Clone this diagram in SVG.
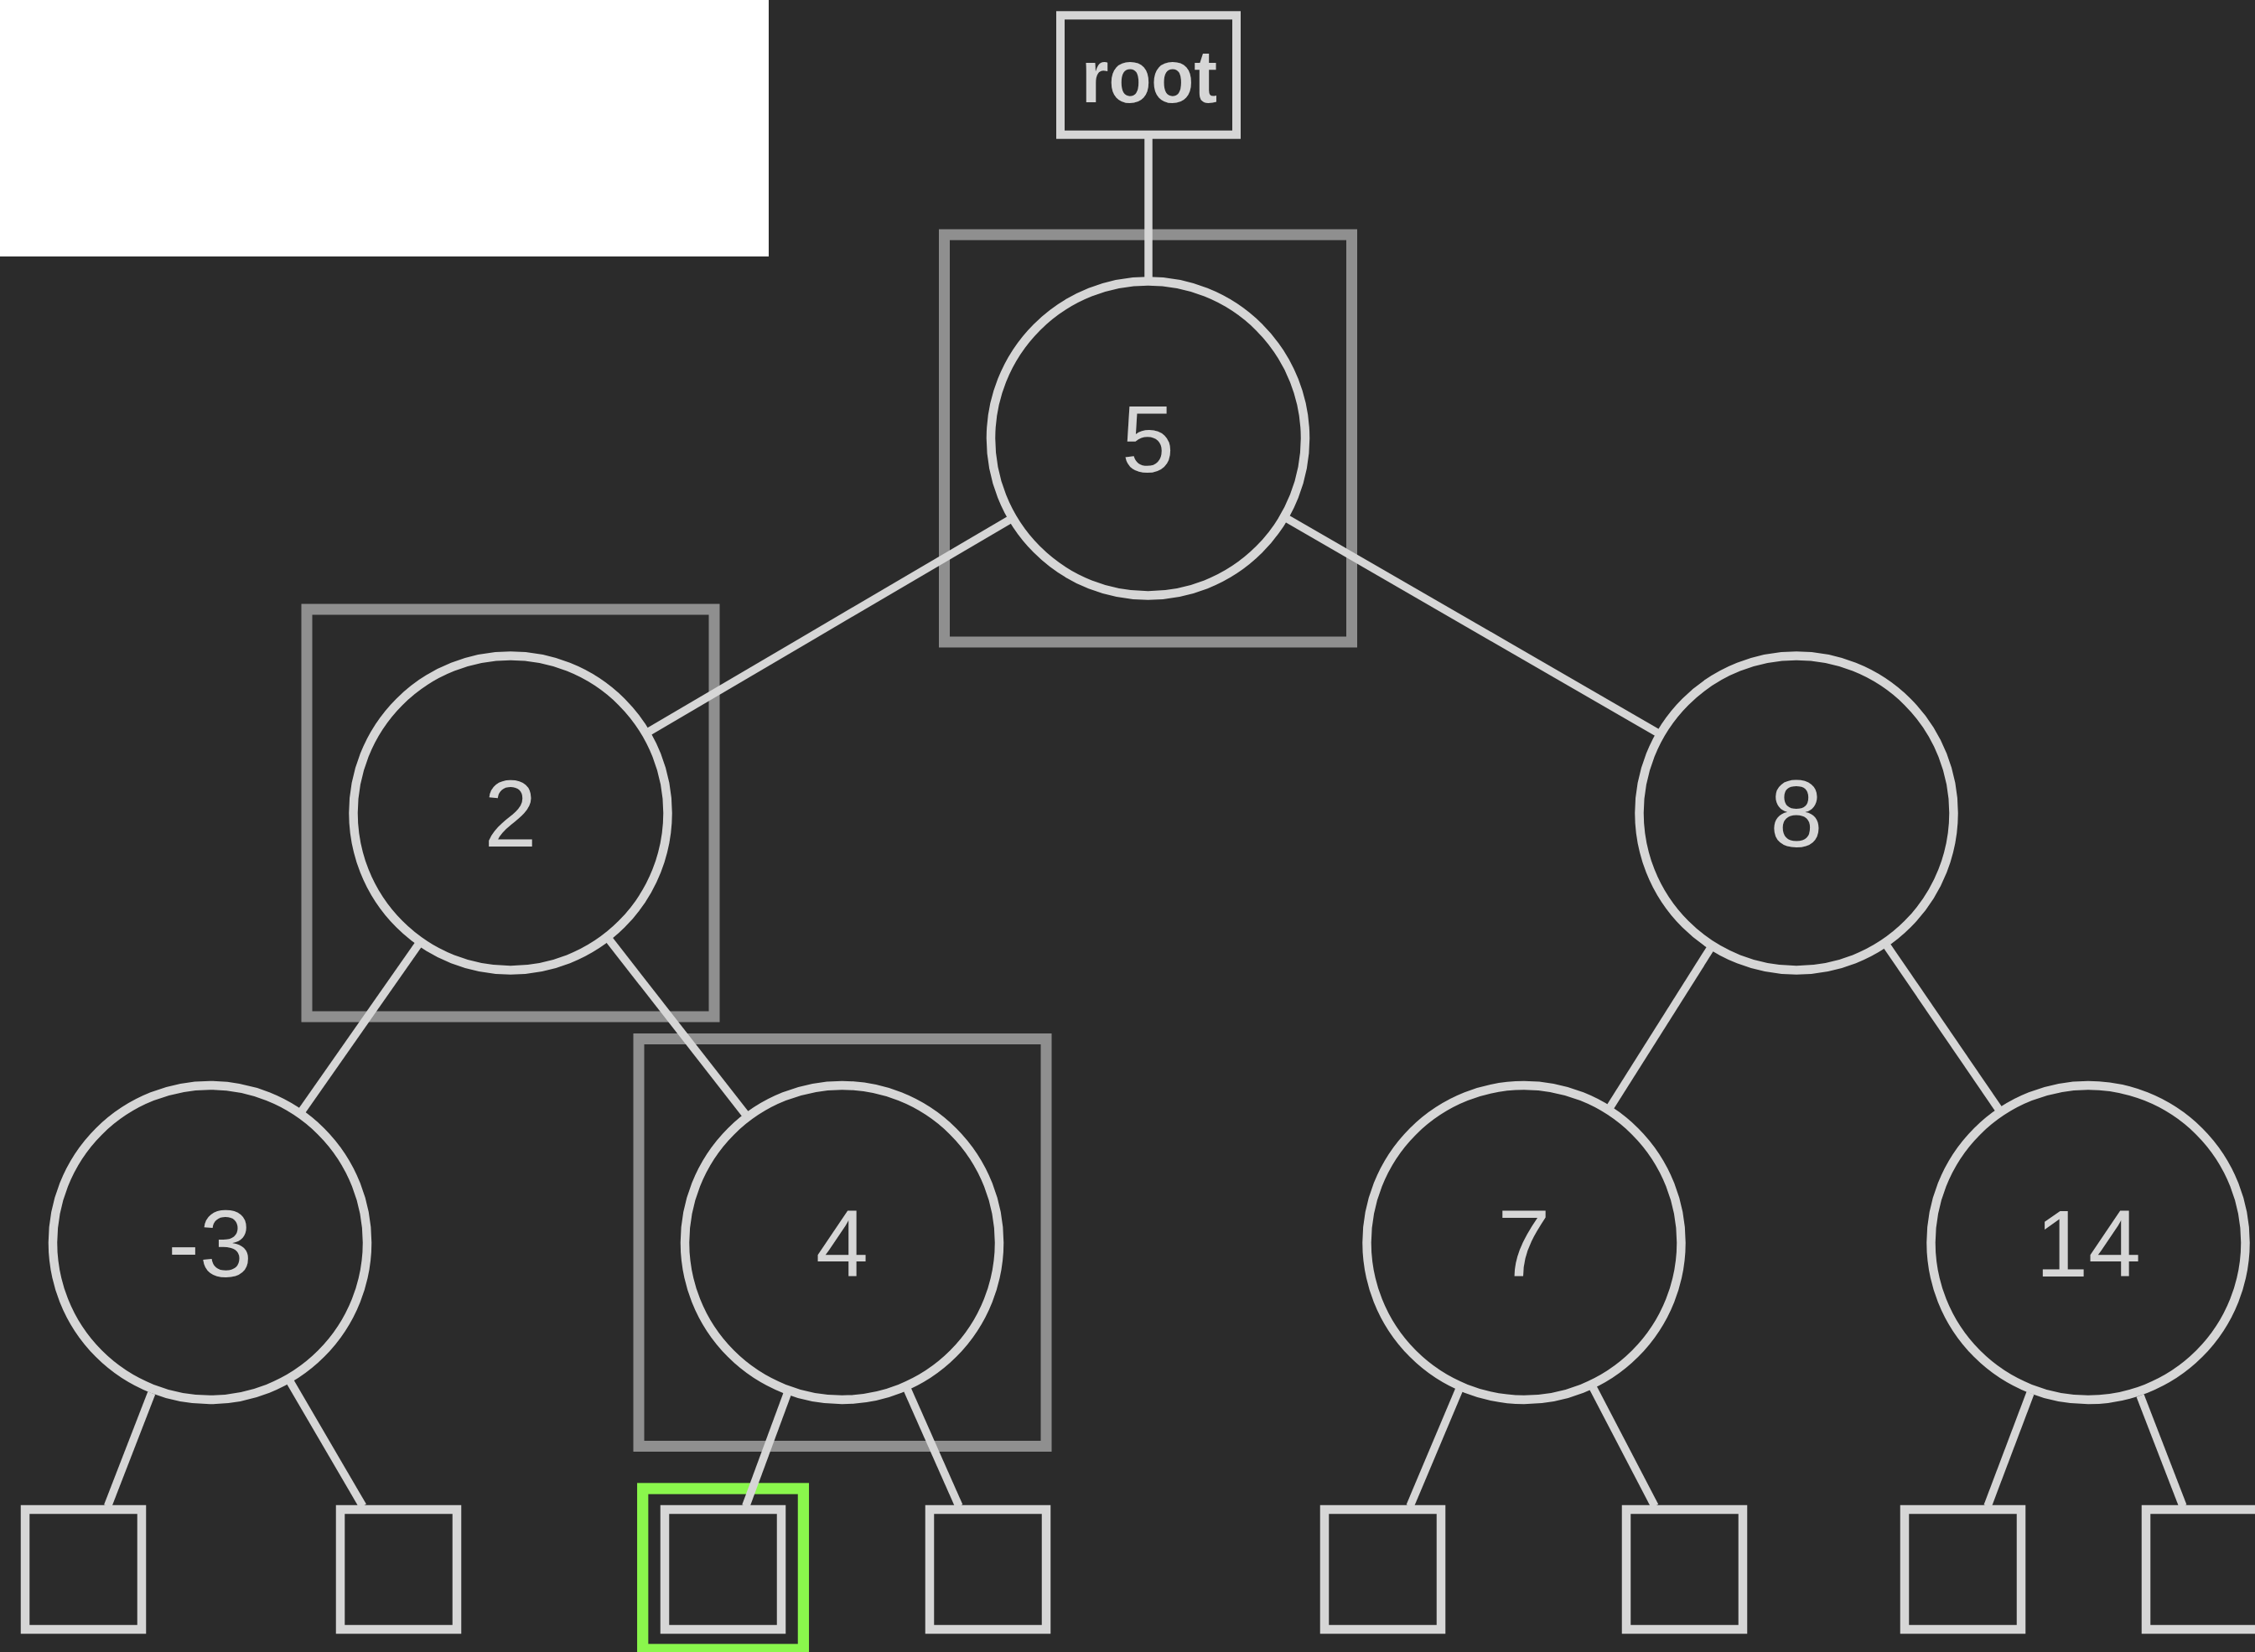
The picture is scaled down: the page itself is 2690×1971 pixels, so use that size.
<svg xmlns="http://www.w3.org/2000/svg" width="2690" height="1971" viewBox="0 0 2690 1971">
<style>
.node{fill:none;stroke:#d6d6d6;stroke-width:10.5}
.leaf{fill:none;stroke:#d6d6d6;stroke-width:10.5}
.hl{fill:none;stroke:#8f8f8f;stroke-width:13}
.edge{stroke:#d6d6d6;stroke-width:9.5;stroke-linecap:butt;fill:none}
.lbl{font-family:"Liberation Sans",Arial,sans-serif;font-size:113px;fill:#d6d6d6;text-anchor:middle}
.rootlbl{font-family:"Liberation Sans",Arial,sans-serif;font-weight:bold;font-size:89px;fill:#d6d6d6;text-anchor:middle}
</style>
<rect x="0" y="0" width="2690" height="1971" fill="#2b2b2b"/>
<rect x="0" y="0" width="917" height="306" fill="#ffffff"/>
<g id="highlights">
<rect class="hl" x="1126.5" y="280" width="486" height="486"/>
<rect class="hl" x="366" y="727" width="486" height="486"/>
<rect class="hl" x="762" y="1239.5" width="486" height="486"/>
<rect x="766.7" y="1776" width="191.7" height="192" fill="none" stroke="#8af74c" stroke-width="13.3"/>
</g>
<g id="connectors">
<line class="edge" x1="1370" y1="164" x2="1370" y2="336"/>
<line class="edge" x1="1204" y1="620.3" x2="774.5" y2="872.7"/>
<line class="edge" x1="1535.7" y1="619" x2="1976.8" y2="874"/>
<line class="edge" x1="498.8" y1="1127.3" x2="359" y2="1327"/>
<line class="edge" x1="727" y1="1121.5" x2="889.7" y2="1330"/>
<line class="edge" x1="2040" y1="1132" x2="1921" y2="1320.5"/>
<line class="edge" x1="2251" y1="1128.6" x2="2384" y2="1323"/>
<line class="edge" x1="180.8" y1="1662" x2="128.5" y2="1797"/>
<line class="edge" x1="345.8" y1="1648" x2="432.8" y2="1797"/>
<line class="edge" x1="939.5" y1="1662" x2="889.7" y2="1797"/>
<line class="edge" x1="1082" y1="1657" x2="1144" y2="1797"/>
<line class="edge" x1="1741" y1="1657" x2="1682" y2="1797"/>
<line class="edge" x1="1900" y1="1655" x2="1974" y2="1797"/>
<line class="edge" x1="2422" y1="1662" x2="2371" y2="1797"/>
<line class="edge" x1="2553" y1="1665" x2="2604" y2="1797"/>
</g>
<g id="root">
<rect x="1265" y="18.3" width="210" height="142.4" fill="none" stroke="#d6d6d6" stroke-width="10"/>
<text class="rootlbl" x="1371" y="122" textLength="162" lengthAdjust="spacingAndGlyphs">root</text>
</g>
<g id="n5"><circle class="node" cx="1369.5" cy="523" r="187.5"/><text class="lbl" x="1369.5" y="563">5</text></g>
<g id="n2"><circle class="node" cx="609" cy="970" r="187.5"/><text class="lbl" x="609" y="1010">2</text></g>
<g id="n8"><circle class="node" cx="2143" cy="970" r="187.5"/><text class="lbl" x="2143" y="1010">8</text></g>
<g id="nm3"><circle class="node" cx="250.5" cy="1482.5" r="187.5"/><text class="lbl" x="250.5" y="1523">-3</text></g>
<g id="n4"><circle class="node" cx="1004.5" cy="1482.5" r="187.5"/><text class="lbl" x="1004.5" y="1523">4</text></g>
<g id="n7"><circle class="node" cx="1818" cy="1482.5" r="187.5"/><text class="lbl" x="1818" y="1523">7</text></g>
<g id="n14"><circle class="node" cx="2491" cy="1482.5" r="187.5"/><text class="lbl" x="2491" y="1523">14</text></g>
<g id="leaf1"><rect class="leaf" x="30" y="1801" width="139" height="143"/></g>
<g id="leaf2"><rect class="leaf" x="406" y="1801" width="139" height="143"/></g>
<g id="leaf3"><rect class="leaf" x="793" y="1801" width="139" height="143"/></g>
<g id="leaf4"><rect class="leaf" x="1109" y="1801" width="139" height="143"/></g>
<g id="leaf5"><rect class="leaf" x="1580" y="1801" width="139" height="143"/></g>
<g id="leaf6"><rect class="leaf" x="1940" y="1801" width="139" height="143"/></g>
<g id="leaf7"><rect class="leaf" x="2272" y="1801" width="139" height="143"/></g>
<g id="leaf8"><rect class="leaf" x="2560" y="1801" width="139" height="143"/></g>
</svg>
